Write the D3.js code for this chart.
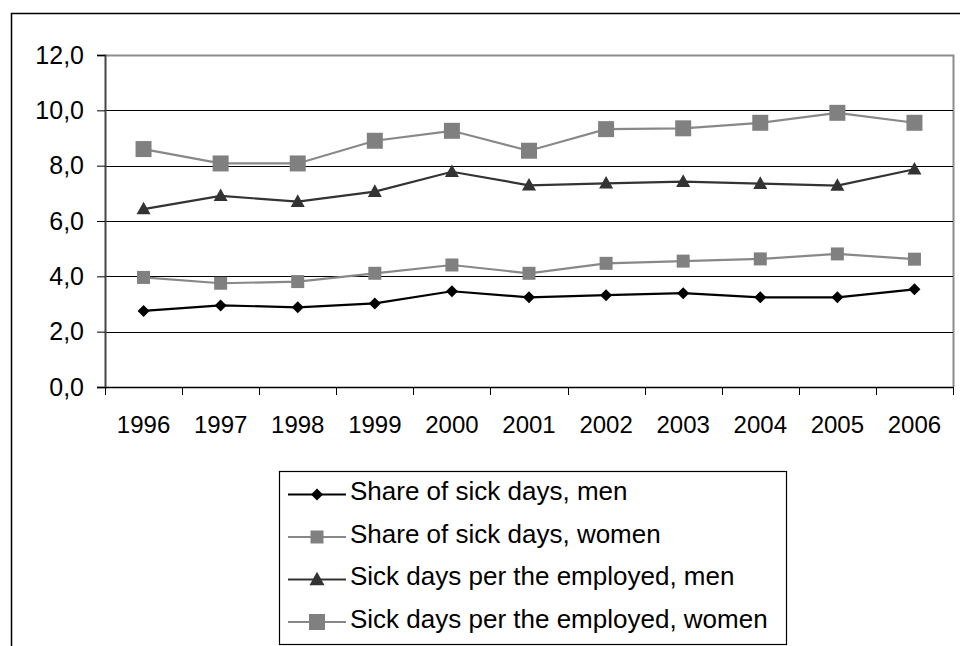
<!DOCTYPE html>
<html>
<head>
<meta charset="utf-8">
<script src="https://cdn.jsdelivr.net/npm/d3@7"></script>
<style>
  html, body { margin: 0; padding: 0; background: #fff; }
  svg { display: block; }
  text { font-family: "Liberation Sans", Arial, sans-serif; fill: #000; }
</style>
</head>
<body>
<svg id="chart" width="960" height="646"></svg>
<script>
// Years on the category axis
const years = ["1996", "1997", "1998", "1999", "2000", "2001", "2002", "2003", "2004", "2005", "2006"];

// Series values
const shareMen        = [2.75, 2.95, 2.88, 3.02, 3.46, 3.24, 3.32, 3.39, 3.24, 3.24, 3.53];
const shareWomen      = [3.96, 3.75, 3.81, 4.11, 4.41, 4.11, 4.47, 4.55, 4.63, 4.81, 4.62];
const employedMen     = [6.43, 6.91, 6.70, 7.06, 7.78, 7.29, 7.36, 7.42, 7.35, 7.28, 7.87];
const employedWomen   = [8.60, 8.08, 8.08, 8.90, 9.26, 8.54, 9.32, 9.35, 9.55, 9.91, 9.55];

const seriesNames = [
  "Share of sick days, men",
  "Share of sick days, women",
  "Sick days per the employed, men",
  "Sick days per the employed, women"
];

const yTicks = [0, 2, 4, 6, 8, 10, 12];

const series = [
  { name: seriesNames[0], values: shareMen,      line: "#000000", fill: "#000000", marker: "diamond", size: 12 },
  { name: seriesNames[1], values: shareWomen,    line: "#888888", fill: "#808080", marker: "square",  size: 13 },
  { name: seriesNames[2], values: employedMen,   line: "#333333", fill: "#333333", marker: "triangle", size: 14 },
  { name: seriesNames[3], values: employedWomen, line: "#888888", fill: "#808080", marker: "square",  size: 16 }
];

const svg = d3.select("#chart");

// Outer chart frame (top and left edges)
svg.append("path")
  .attr("d", "M11.5,646 V13.5 H960")
  .attr("fill", "none")
  .attr("stroke", "#000")
  .attr("stroke-width", 1.5);

const plot = { left: 105, right: 953, top: 55, bottom: 387 };

const x = d3.scaleBand().domain(years).range([plot.left, plot.right]).paddingInner(0).paddingOuter(0);
const y = d3.scaleLinear().domain([0, 12]).range([plot.bottom, plot.top]);

// Plot area border (top and right)
svg.append("path")
  .attr("d", `M${plot.left},${plot.top + 0.5} H${plot.right + 0.5} V${plot.bottom}`)
  .attr("fill", "none")
  .attr("stroke", "#8c8c8c")
  .attr("stroke-width", 2);

// Horizontal gridlines
svg.append("g")
  .selectAll("line")
  .data(yTicks.filter(t => t > 0 && t < 12))
  .join("line")
  .attr("x1", plot.left)
  .attr("x2", plot.right)
  .attr("y1", d => Math.round(y(d)) + 0.5)
  .attr("y2", d => Math.round(y(d)) + 0.5)
  .attr("stroke", "#000")
  .attr("stroke-width", 1);

// Y axis
const yAxis = svg.append("g")
  .attr("transform", `translate(${plot.left},0)`)
  .call(d3.axisLeft(y).tickValues(yTicks).tickSize(8).tickPadding(13)
    .tickFormat(d => d3.format(".1f")(d).replace(".", ",")));
yAxis.select(".domain").attr("stroke", "#444").attr("stroke-width", 2);
yAxis.selectAll(".tick line").attr("stroke", "#000");
yAxis.selectAll(".tick text").style("font-size", "25px").attr("font-family", null);

// X axis
const xAxis = svg.append("g")
  .attr("transform", `translate(0,${plot.bottom})`)
  .call(d3.axisBottom(x).tickSize(0).tickPadding(29));
xAxis.select(".domain").attr("stroke", "#000").attr("stroke-width", 1.5);
xAxis.selectAll(".tick text").style("font-size", "24px").attr("font-family", null).attr("dy", "0.71em");

// X category boundary ticks
svg.append("g")
  .selectAll("line")
  .data(years.concat(["end"]))
  .join("line")
  .attr("x1", (d, i) => Math.round(i < years.length ? x(d) : plot.right) + 0.5)
  .attr("x2", (d, i) => Math.round(i < years.length ? x(d) : plot.right) + 0.5)
  .attr("y1", plot.bottom)
  .attr("y2", plot.bottom + 8)
  .attr("stroke", "#000");

// Marker shapes
function markerPath(type, s) {
  const h = s / 2;
  if (type === "diamond") return `M0,${-h} L${h},0 L0,${h} L${-h},0 Z`;
  if (type === "square") return `M${-h},${-h} H${h} V${h} H${-h} Z`;
  // triangle
  return `M0,${-h * 1.05} L${h},${h * 0.75} L${-h},${h * 0.75} Z`;
}

const line = d3.line()
  .x((d, i) => x(years[i]) + x.bandwidth() / 2)
  .y(d => y(d));

series.forEach(s => {
  const g = svg.append("g");
  g.append("path")
    .attr("d", line(s.values))
    .attr("fill", "none")
    .attr("stroke", s.line)
    .attr("stroke-width", 2.2);
  g.selectAll("path.m")
    .data(s.values)
    .join("path")
    .attr("class", "m")
    .attr("transform", (d, i) => `translate(${x(years[i]) + x.bandwidth() / 2},${y(d)})`)
    .attr("d", markerPath(s.marker, s.size))
    .attr("fill", s.fill);
});

// Legend
const legend = svg.append("g");
legend.append("rect")
  .attr("x", 279.5).attr("y", 471.5)
  .attr("width", 507).attr("height", 173)
  .attr("fill", "#fff").attr("stroke", "#000").attr("stroke-width", 1.2);

const legendSizes = [12, 13, 15, 16];
series.forEach((s, i) => {
  const cy = 494.5 + i * 42.5;
  const g = legend.append("g").attr("transform", `translate(0,${cy})`);
  g.append("line")
    .attr("x1", 288).attr("x2", 346)
    .attr("y1", 0).attr("y2", 0)
    .attr("stroke", s.line).attr("stroke-width", 2);
  g.append("path")
    .attr("transform", `translate(317,0)`)
    .attr("d", markerPath(s.marker, legendSizes[i]))
    .attr("fill", s.fill);
  g.append("text")
    .attr("x", 350).attr("y", 5.5)
    .style("font-size", "26px")
    .text(s.name);
});
</script>
</body>
</html>
